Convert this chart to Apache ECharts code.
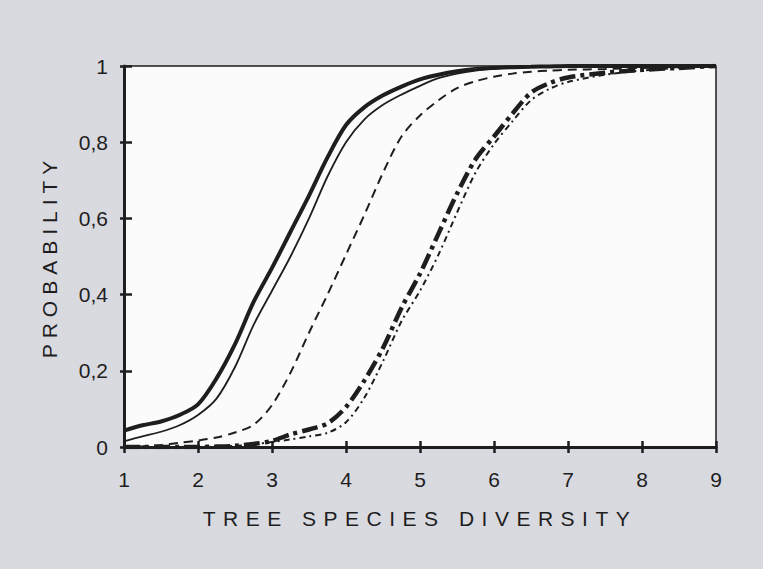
<!DOCTYPE html>
<html>
<head>
<meta charset="utf-8">
<script src="https://cdn.jsdelivr.net/npm/echarts/dist/echarts.min.js"></script>
<style>
html, body { margin: 0; padding: 0; background: #d9d9e0; }
#chart { width: 763px; height: 569px; }
</style>
</head>
<body>
<div id="chart"></div>
<script>
// tree species diversity (x) shared by all curves
var diversity = [1, 1.25, 1.5, 1.75, 2, 2.25, 2.5, 2.75, 3, 3.25, 3.5, 3.75, 4, 4.25, 4.5,
    4.75, 5, 5.25, 5.5, 5.75, 6, 6.25, 6.5, 6.75, 7, 7.5, 8, 8.5, 9];

// probability curves
var thickSolid = [0.043, 0.057, 0.067, 0.084, 0.112, 0.18, 0.27, 0.38, 0.47, 0.565, 0.66, 0.76, 0.845, 0.892, 0.923,
    0.946, 0.965, 0.977, 0.986, 0.992, 0.995, 0.997, 0.998, 0.999, 1, 1, 1, 1, 1];
var thinSolid = [0.015, 0.028, 0.04, 0.057, 0.084, 0.127, 0.21, 0.32, 0.41, 0.50, 0.60, 0.71, 0.80, 0.86, 0.898,
    0.925, 0.948, 0.968, 0.98, 0.988, 0.993, 0.996, 0.998, 0.999, 1, 1, 1, 1, 1];
var dashed = [0, 0.002, 0.005, 0.011, 0.017, 0.025, 0.038, 0.058, 0.11, 0.195, 0.30, 0.40, 0.505, 0.61, 0.72,
    0.815, 0.87, 0.91, 0.942, 0.96, 0.972, 0.98, 0.985, 0.988, 0.99, 0.992, 0.995, 0.997, 1];
var thickDash = [0, 0, 0, 0, 0, 0.001, 0.003, 0.008, 0.016, 0.033, 0.046, 0.062, 0.105, 0.175, 0.26,
    0.365, 0.455, 0.56, 0.665, 0.755, 0.815, 0.875, 0.93, 0.955, 0.97, 0.982, 0.99, 0.995, 1];
var thinDashDot = [0, 0, 0, 0, 0, 0.001, 0.003, 0.007, 0.013, 0.02, 0.028, 0.037, 0.065, 0.13, 0.225,
    0.33, 0.41, 0.505, 0.615, 0.72, 0.795, 0.855, 0.91, 0.94, 0.958, 0.977, 0.988, 0.995, 1];

var yTickLabels = ['0', '0,2', '0,4', '0,6', '0,8', '1'];
var xName = 'TREE SPECIES DIVERSITY';
var yName = 'PROBABILITY';

function pairs(ys) {
    return diversity.map(function (x, i) { return [x, ys[i]]; });
}

var ink = '#1e1e1e';
var font = '"Liberation Sans", Arial, sans-serif';

function line(ys, width, type) {
    return {
        type: 'line',
        data: pairs(ys),
        symbol: 'none',
        smooth: 0.3,
        silent: true,
        lineStyle: { color: ink, width: width, type: type, cap: 'butt' }
    };
}

var dom = document.getElementById('chart');
var myChart = echarts.init(dom, null, { renderer: 'svg' });

option = {
    animation: false,
    backgroundColor: '#d9d9e0',
    grid: {
        left: 124, right: 47, top: 66, bottom: 122,
        show: true,
        backgroundColor: '#fbfbfb',
        borderColor: ink,
        borderWidth: 1.5
    },
    xAxis: [
        {
            type: 'value', min: 1, max: 9, interval: 1, position: 'bottom',
            name: xName, nameLocation: 'middle', nameGap: 61,
            nameTextStyle: { color: ink, fontSize: 21, fontFamily: font },
            axisLine: { lineStyle: { color: ink, width: 3 } },
            axisTick: { length: 6, lineStyle: { color: ink, width: 2.5 } },
            axisLabel: { color: ink, fontSize: 21, fontFamily: font, margin: 22 },
            splitLine: { show: false }
        },
        {
            type: 'value', min: 1, max: 9, interval: 1, position: 'bottom',
            axisLine: { show: false },
            axisTick: { inside: true, length: 6, lineStyle: { color: ink, width: 2.5 } },
            axisLabel: { show: false },
            splitLine: { show: false }
        }
    ],
    yAxis: [
        {
            type: 'value', min: 0, max: 1, interval: 0.2, position: 'left',
            name: yName, nameLocation: 'middle', nameGap: 64,
            nameTextStyle: { color: ink, fontSize: 21, fontFamily: font },
            axisLine: { lineStyle: { color: ink, width: 3 } },
            axisTick: { length: 4, lineStyle: { color: ink, width: 2.5 } },
            axisLabel: {
                color: ink, fontSize: 21, fontFamily: font, margin: 16,
                formatter: function (v) { return yTickLabels[Math.round(v / 0.2)]; }
            },
            splitLine: { show: false }
        },
        {
            type: 'value', min: 0, max: 1, interval: 0.2, position: 'left',
            axisLine: { show: false },
            axisTick: { inside: true, length: 8, lineStyle: { color: ink, width: 2.5 } },
            axisLabel: { show: false },
            splitLine: { show: false }
        }
    ],
    series: [
        line(thickSolid, 4, 'solid'),
        line(thinSolid, 1.8, 'solid'),
        line(dashed, 2, [9, 6]),
        line(thickDash, 4.5, [16, 5, 4, 5]),
        line(thinDashDot, 2, [6, 4, 2, 4])
    ]
};

if (option && typeof option === 'object') {
    myChart.setOption(option, true);
}

// spread out the axis titles like the printed figure
function spaceTitles() {
    dom.querySelectorAll('text').forEach(function (t) {
        if (t.textContent === xName) t.setAttribute('letter-spacing', '7.5');
        if (t.textContent === yName) t.setAttribute('letter-spacing', '6');
    });
}
myChart.on('finished', spaceTitles);
spaceTitles();
setTimeout(spaceTitles, 50);
</script>
</body>
</html>
